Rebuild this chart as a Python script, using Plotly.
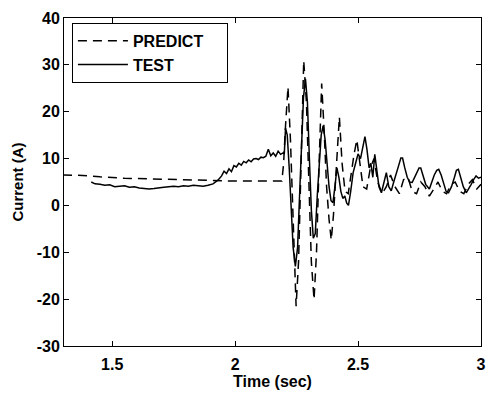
import plotly.graph_objects as go

pred_t = [1.30, 1.38, 1.45, 1.55, 1.70, 1.85, 2.00, 2.19, 2.197, 2.205, 2.215, 2.225, 2.237, 2.248, 2.258,
          2.268, 2.279, 2.290, 2.300, 2.310, 2.321, 2.331, 2.341, 2.352, 2.362, 2.372, 2.382, 2.391, 2.400,
          2.412, 2.424, 2.435, 2.447, 2.460, 2.472, 2.484, 2.495, 2.507, 2.520, 2.535, 2.550, 2.565, 2.580,
          2.598, 2.615, 2.632, 2.650, 2.668, 2.685, 2.703, 2.720, 2.738, 2.755, 2.772, 2.790, 2.808, 2.825,
          2.843, 2.860, 2.878, 2.895, 2.913, 2.930, 2.948, 2.965, 2.983, 3.000]
pred_v = [6.5, 6.4, 6.1, 5.8, 5.6, 5.4, 5.2, 5.2, 8.8, 17.0, 25.3, 14.0, -6.0, -21.5, -12.0,
          8.0, 30.9, 22.0, 4.0, -12.0, -20.1, -10.0, 8.0, 26.0, 16.0, 4.0, -3.0, -7.4, -2.0,
          9.0, 18.9, 9.0, 3.0, 2.5, 7.0, 11.0, 14.0, 9.0, 4.0, 3.5, 8.0, 10.0, 5.0,
          2.5, 4.0, 6.5, 4.0, 2.5, 5.5, 6.0, 3.0, 2.5, 5.0, 4.0, 2.0, 3.5, 5.0,
          3.0, 2.5, 4.5, 5.0, 3.0, 2.5, 4.5, 5.5, 3.5, 4.5]

test_t = [1.415, 1.43, 1.45, 1.47, 1.49, 1.51, 1.53, 1.55, 1.57, 1.59, 1.61, 1.63, 1.65, 1.67, 1.69,
          1.71, 1.73, 1.75, 1.77, 1.79, 1.81, 1.83, 1.85, 1.87, 1.89, 1.91, 1.93, 1.945, 1.955, 1.965,
          1.975, 1.985, 1.995, 2.005, 2.015, 2.025, 2.035, 2.045, 2.055, 2.065, 2.075, 2.085, 2.095, 2.105,
          2.115, 2.125, 2.135, 2.145, 2.155, 2.165, 2.175, 2.185, 2.195, 2.200, 2.205, 2.212, 2.220, 2.228,
          2.236, 2.245, 2.254, 2.262, 2.270, 2.278, 2.286, 2.294, 2.302, 2.310, 2.318, 2.326, 2.334, 2.342,
          2.350, 2.358, 2.366, 2.374, 2.382, 2.390, 2.398, 2.406, 2.414, 2.422, 2.430, 2.438, 2.446, 2.454,
          2.461, 2.470, 2.480, 2.490, 2.500, 2.510, 2.520, 2.528, 2.536, 2.545, 2.552, 2.560, 2.568, 2.576,
          2.585, 2.595, 2.605, 2.615, 2.625, 2.635, 2.645, 2.655, 2.665, 2.674, 2.681, 2.690, 2.700, 2.710,
          2.720, 2.730, 2.740, 2.748, 2.755, 2.765, 2.775, 2.790, 2.800, 2.810, 2.820, 2.828, 2.838, 2.848,
          2.858, 2.868, 2.880, 2.892, 2.900, 2.908, 2.918, 2.928, 2.940, 2.950, 2.960, 2.970, 2.980, 2.990,
          3.000]
test_v = [5.0, 4.6, 4.5, 4.3, 4.4, 4.0, 4.1, 4.2, 3.9, 4.0, 3.7, 3.6, 3.5, 3.6, 3.8,
          3.9, 4.0, 4.1, 4.0, 4.2, 4.1, 4.3, 4.2, 4.1, 4.3, 4.6, 5.4, 6.3, 7.3, 6.8,
          7.8, 7.2, 8.5, 8.2, 9.0, 8.6, 9.4, 9.1, 9.7, 9.3, 9.9, 10.0, 9.8, 10.3,
          10.2, 10.5, 12.0, 10.6, 11.2, 10.5, 11.6, 10.9, 11.2, 11.0, 16.5, 15.0, 8.0, -2.0,
          -9.0, -13.0, -9.0, 2.0, 14.0, 23.0, 27.0, 22.0, 10.0, -1.0, -7.0, -6.0, 2.0, 10.0,
          15.0, 17.0, 14.0, 9.0, 4.0, 1.0, 0.6, 4.0, 8.0, 6.0, 3.0, 1.5, 2.0, 0.5,
          0.0, 3.0, 7.0, 9.0, 11.0, 10.0, 13.0, 14.7, 12.0, 8.0, 9.0, 6.0, 10.9, 7.0,
          4.0, 2.7, 5.0, 7.0, 4.0, 3.1, 5.0, 7.0, 8.5, 10.1, 10.1, 8.0, 6.0, 5.0,
          4.9, 6.0, 7.0, 8.0, 8.0, 6.0, 4.5, 3.5, 5.0, 6.5, 7.5, 7.7, 6.5, 4.5,
          3.0, 2.7, 4.0, 6.0, 7.5, 7.7, 6.0, 4.0, 2.7, 3.5, 4.5, 5.5, 6.3, 5.8,
          6.0]

x_ticks = [1.5, 2, 2.5, 3]
x_labels = ["1.5", "2", "2.5", "3"]
y_ticks = [-30, -20, -10, 0, 10, 20, 30, 40]
y_labels = ["-30", "-20", "-10", "0", "10", "20", "30", "40"]
series_names = ["PREDICT", "TEST"]

FONT = "Liberation Sans, Arial, sans-serif"
PAD = "\u00a0" * 4

fig = go.Figure()
fig.add_trace(go.Scatter(x=pred_t, y=pred_v, mode="lines", name=series_names[0] + PAD,
                         line=dict(color="black", width=1.5, dash="9px,6px")))
fig.add_trace(go.Scatter(x=test_t, y=test_v, mode="lines", name=series_names[1],
                         line=dict(color="black", width=1.5)))

axis_common = dict(showline=True, linecolor="black", linewidth=1, mirror="ticks",
                   ticks="inside", ticklen=5, tickcolor="black", showgrid=False, zeroline=False,
                   tickfont=dict(family=FONT, size=16, color="black", weight="bold"))

fig.update_layout(
    width=496, height=396,
    margin=dict(l=64, r=10, t=15, b=49),
    paper_bgcolor="white", plot_bgcolor="white",
    font=dict(family=FONT, color="black"),
    xaxis=dict(range=[1.304, 3.0], tickvals=x_ticks, ticktext=x_labels, ticklabelstandoff=4,
               title=dict(text="Time (sec)", font=dict(family=FONT, size=16, weight="bold"), standoff=2),
               **axis_common),
    yaxis=dict(range=[-30, 40], tickvals=y_ticks, ticktext=y_labels,
               title=dict(text="Current (A)", font=dict(family=FONT, size=15, weight="bold"), standoff=9),
               **axis_common),
    legend=dict(x=0.019, y=0.985, xanchor="left", yanchor="top", bgcolor="white",
                bordercolor="black", borderwidth=1, itemwidth=50,
                font=dict(family=FONT, size=16, color="black", weight="bold"),
                tracegroupgap=0),
    showlegend=True,
)

fig.write_html("out.html")
